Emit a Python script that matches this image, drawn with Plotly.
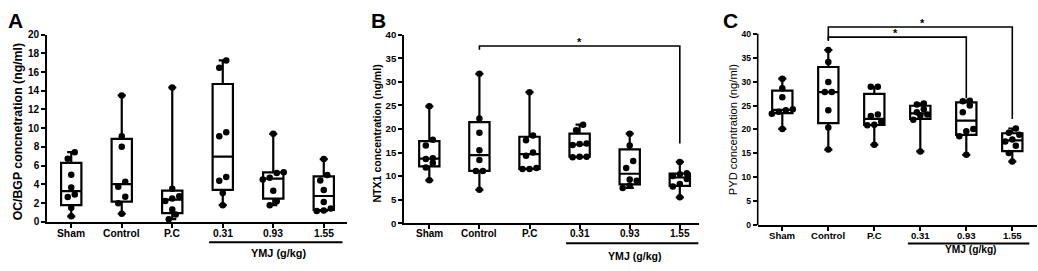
import numpy as np
import plotly.graph_objects as go

# ---------------- data ----------------
CATEGORIES = ["Sham", "Control", "P.C", "0.31", "0.93", "1.55"]
GROUP_LABEL = "YMJ (g/kg)"

OC_BGP = [
    [7.44, 6.72, 5.02, 3.65, 2.9, 2.63, 1.5, 0.58],
    [13.5, 9.15, 8.02, 4.27, 3.75, 2.66, 1.98, 0.85],
    [14.35, 3.52, 2.73, 2.49, 2.22, 1.3, 0.78, 0.27],
    [17.25, 16.45, 9.56, 9.15, 4.78, 4.37, 3.07, 1.77],
    [9.4, 5.3, 5.2, 4.7, 4.5, 3.3, 2.2, 1.77],
    [6.7, 5.0, 4.4, 3.4, 2.1, 1.4, 1.2, 1.15],
]
NTX1 = [
    [24.8, 17.7, 16.5, 13.8, 13.6, 12.8, 11.8, 9.1],
    [31.7, 22.2, 19.2, 15.5, 13.4, 11.1, 11.1, 7.1],
    [27.8, 18.6, 17.6, 15.0, 14.3, 11.7, 11.5, 11.5],
    [20.9, 19.7, 16.9, 16.8, 16.6, 14.1, 14.1, 14.0],
    [19.0, 16.5, 13.2, 11.7, 9.3, 9.0, 8.0, 7.5],
    [13.0, 10.6, 10.4, 10.0, 9.4, 8.3, 7.8, 5.5],
]
PYD = [
    [30.6, 28.6, 26.7, 24.2, 24.0, 23.7, 23.3, 20.1],
    [36.6, 34.1, 29.9, 27.8, 27.8, 24.0, 20.4, 15.8],
    [28.9, 28.9, 23.1, 22.8, 21.6, 21.0, 20.9, 16.8],
    [25.4, 25.2, 24.2, 23.6, 23.1, 22.9, 22.0, 15.4],
    [26.0, 25.9, 25.0, 23.6, 20.1, 19.6, 18.6, 14.7],
    [20.2, 19.3, 18.9, 17.9, 17.5, 16.6, 15.1, 13.3],
]

# significance brackets: (from group, to group, bar level, right drop end, star x)
SIG_B = [(1, 5, 37.6, 16.9, 3.0)]
SIG_C = [(1, 5, 41.4, 22.2, 3.05), (1, 4, 39.3, 26.5, 2.45)]

# ---------------- layout geometry ----------------
W, H = 1038, 271
FONT = "Liberation Sans, Arial, sans-serif"

panels = [
    dict(name="A", data=OC_BGP, title="OC/BGP concnetration (ng/ml)", title_bold=True,
         px=(47, 347), py=(30, 225.7), xr=(-0.48, 5.46), yr=(0, 20), tickvals=list(range(0, 21, 2)),
         ytop=20, yfs=10, ttl_fs=12.3, ttl_x=17.5, ttl_y=131.7,
         letter_x=15, sig=[], ymj_y=258, bar_y=247.3, lab_fs=10.3, lab_y=237.7),
    dict(name="B", data=NTX1, title="NTX1 concentration (ng/ml)", title_bold=True,
         px=(404, 699), py=(30, 227.3), xr=(-0.505, 5.383), yr=(0, 40), tickvals=list(range(0, 41, 5)),
         ytop=40, yfs=9.6, ttl_fs=10.6, ttl_x=377.5, ttl_y=134,
         letter_x=378, sig=SIG_B, ymj_y=262, bar_y=248.3, lab_fs=10, lab_y=238.3),
    dict(name="C", data=PYD, title="PYD concentration (ng/ml)", title_bold=False,
         px=(757.7, 1037), py=(18, 229.3), xr=(-0.535, 5.537), yr=(0, 42.2), tickvals=list(range(0, 41, 5)),
         ytop=40, yfs=8.6, ttl_fs=11.2, ttl_x=733, ttl_y=130,
         letter_x=730, sig=SIG_C, ymj_y=255, bar_y=248.5, lab_fs=9.6, lab_y=240),
]

DOT = 6.5
DOT_GAP = 7.0
ROW_THR = 8.0


def swarm(vals, ppx, ppy):
    vals = np.asarray(vals, float)
    order = np.argsort(vals)
    offs = np.zeros(len(vals))
    rows, cur = [], [order[0]]
    for idx in order[1:]:
        if (vals[idx] - vals[cur[0]]) * ppy < ROW_THR:
            cur.append(idx)
        else:
            rows.append(cur)
            cur = [idx]
    rows.append(cur)
    for r in rows:
        n = len(r)
        for k, idx in enumerate(r):
            offs[idx] = (k - (n - 1) / 2) * DOT_GAP / ppx
    return offs


fig = go.Figure()
shapes, annotations = [], []

for pi, p in enumerate(panels):
    sfx = "" if pi == 0 else str(pi + 1)
    xa, ya = "x" + sfx, "y" + sfx
    x0, x1 = p["px"]
    ytp, ybt = p["py"]
    ppx = (x1 - x0) / (p["xr"][1] - p["xr"][0])
    ppy = (ybt - ytp) / (p["yr"][1] - p["yr"][0])
    bw = 20.3 / ppx

    for gi, vals in enumerate(p["data"]):
        v = np.asarray(vals, float)
        q1 = np.percentile(v, 25, method="weibull")
        q3 = np.percentile(v, 75, method="weibull")
        med = np.median(v)
        fig.add_trace(go.Box(
            x=[gi], q1=[q1], median=[med], q3=[q3],
            lowerfence=[v.min()], upperfence=[v.max()],
            width=bw, whiskerwidth=0.4, boxpoints=False,
            line=dict(color="black", width=2.2), fillcolor="rgba(0,0,0,0)",
            xaxis=xa, yaxis=ya, showlegend=False, hoverinfo="skip",
        ))
        offs = swarm(v, ppx, ppy)
        fig.add_trace(go.Scatter(
            x=gi + offs, y=v, mode="markers",
            marker=dict(color="black", size=DOT, line=dict(width=0)),
            xaxis=xa, yaxis=ya, showlegend=False, cliponaxis=False, hoverinfo="skip",
        ))

    layout_x = dict(
        domain=[x0 / W, x1 / W], range=list(p["xr"]), anchor=ya,
        tickmode="array", tickvals=list(range(len(CATEGORIES))),
        showticklabels=False,
        ticks="outside", ticklen=4, tickwidth=1.5, tickcolor="black",
        showline=True, linecolor="black", linewidth=1.6,
        showgrid=False, zeroline=False,
    )
    is_c = p["ytop"] != p["yr"][1]
    layout_y = dict(
        domain=[1 - ybt / H, 1 - ytp / H], range=list(p["yr"]), anchor=xa,
        tickmode="array", tickvals=p["tickvals"], ticktext=[str(t) for t in p["tickvals"]],
        ticks="outside", ticklen=4, tickwidth=1.5, tickcolor="black",
        showline=not is_c, linecolor="black", linewidth=1.6,
        showgrid=False, zeroline=False,
        tickfont=dict(family=FONT, size=p["yfs"], color="black", weight="bold"),
    )
    fig.update_layout(**{"xaxis" + sfx: layout_x, "yaxis" + sfx: layout_y})

    # category labels
    for gi, cat in enumerate(CATEGORIES):
        annotations.append(dict(x=gi, y=1 - p["lab_y"] / H, xref=xa, yref="paper",
                                text=cat, showarrow=False, xanchor="center", yanchor="middle",
                                font=dict(family=FONT, size=p["lab_fs"], color="black", weight="bold")))

    if is_c:
        shapes.append(dict(type="line", xref=xa + " domain", yref=ya, x0=0, x1=0,
                           y0=0, y1=p["ytop"], line=dict(color="black", width=1.6)))

    # significance brackets
    for k, (g0, g1, lvl, drop, sx) in enumerate(p["sig"]):
        left_end = lvl - 0.8
        if k == 0 and len(p["sig"]) > 1:
            left_end = p["sig"][-1][2] - 0.6
        shapes.append(dict(type="path", xref=xa, yref=ya,
                           path=f"M{g0},{left_end} L{g0},{lvl} L{g1},{lvl} L{g1},{drop}",
                           line=dict(color="black", width=1.6)))
        annotations.append(dict(x=sx, y=lvl, xref=xa, yref=ya,
                                text="*", showarrow=False, yanchor="bottom", yshift=-4,
                                font=dict(family=FONT, size=11, color="#000000", weight="bold")))

    # YMJ group bar and label
    shapes.append(dict(type="line", xref=xa, yref="paper", x0=2.73, x1=5.37,
                       y0=1 - p["bar_y"] / H, y1=1 - p["bar_y"] / H,
                       line=dict(color="black", width=2)))
    annotations.append(dict(x=4.1, y=1 - p["ymj_y"] / H, xref=xa, yref="paper",
                            text=GROUP_LABEL, showarrow=False, xanchor="center", yanchor="middle",
                            font=dict(family=FONT, size=p["lab_fs"] + 0.6, color="black", weight="bold")))

    # y-axis title
    annotations.append(dict(x=p["ttl_x"] / W, y=1 - p["ttl_y"] / H, xref="paper", yref="paper",
                            text=p["title"], textangle=-90, showarrow=False,
                            xanchor="center", yanchor="middle",
                            font=dict(family=FONT, size=p["ttl_fs"], color="black",
                                      weight="bold" if p["title_bold"] else "normal")))
    # panel letter
    annotations.append(dict(x=p["letter_x"] / W, y=1 - 15 / H, xref="paper", yref="paper",
                            text=p["name"], showarrow=False, xanchor="center", yanchor="middle",
                            font=dict(family=FONT, size=21, color="black", weight="bold")))

fig.update_layout(
    width=W, height=H, margin=dict(l=0, r=0, t=0, b=0),
    paper_bgcolor="white", plot_bgcolor="white",
    shapes=shapes, annotations=annotations, boxmode="overlay",
    font=dict(family=FONT, color="black"),
)

fig.write_html("out.html", config={"displayModeBar": False},
               post_script="document.body.style.margin='0';")
